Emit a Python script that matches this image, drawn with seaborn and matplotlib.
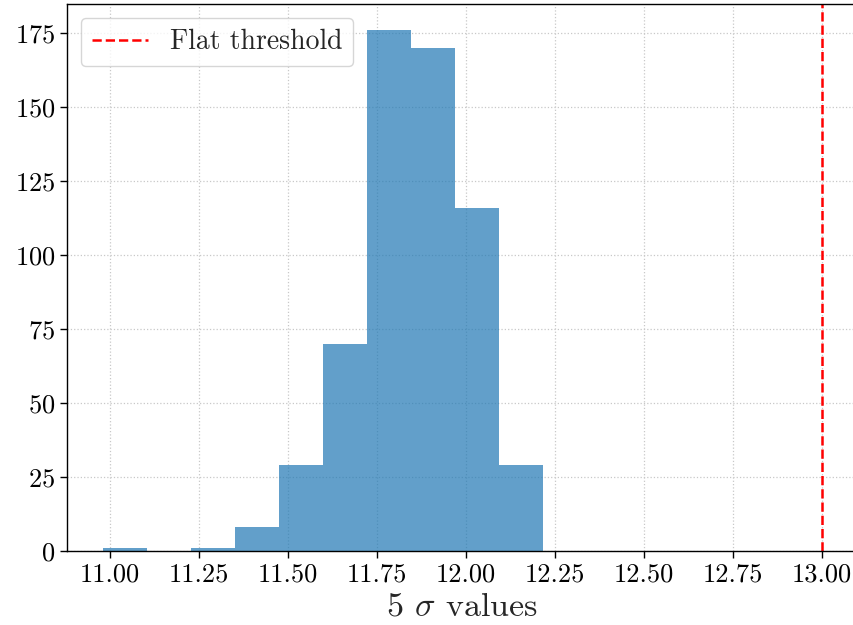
import matplotlib
matplotlib.use("Agg")
import matplotlib.pyplot as plt
import seaborn as sns
import numpy as np

# Histogram of 5-sigma values: bin edges and counts per bin
bin_edges = [10.980, 11.104, 11.227, 11.351, 11.474, 11.598,
             11.722, 11.845, 11.969, 12.092, 12.216]
bin_counts = [1, 0, 1, 8, 29, 70, 176, 170, 116, 29]
flat_threshold = 13.0

sns.set_style("ticks")
plt.rcParams.update({
    "font.family": "cmr10",
    "mathtext.fontset": "cm",
    "axes.formatter.use_mathtext": True,
    "axes.unicode_minus": False,
    "axes.edgecolor": "black",
    "axes.linewidth": 1.0,
    "xtick.color": "black",
    "ytick.color": "black",
    "xtick.major.size": 5,
    "ytick.major.size": 5,
    "xtick.major.width": 1.0,
    "ytick.major.width": 1.0,
})

centers = [(a + b) / 2 for a, b in zip(bin_edges[:-1], bin_edges[1:])]

fig = plt.figure(figsize=(8.54, 6.25), dpi=100)
ax = fig.add_axes([0.0785, 0.1184, 0.9257, 0.8752])

sns.histplot(x=centers, weights=bin_counts, bins=bin_edges, ax=ax,
             color="tab:blue", alpha=0.7, linewidth=0, stat="count")

ax.axvline(flat_threshold, color="red", linestyle="--", linewidth=1.8,
           label="Flat threshold")

ax.set_xlim(10.879, 13.101)
ax.set_ylim(0, 184.8)
ax.set_xticks(np.arange(11.0, 13.01, 0.25))
ax.set_yticks(np.arange(0, 176, 25))
ax.xaxis.set_major_formatter(matplotlib.ticker.FormatStrFormatter("%.2f"))
ax.tick_params(labelsize=19)
ax.grid(True, linestyle=":", color="#c8c8c8", linewidth=0.9)

ax.set_xlabel(r"5 $\sigma$ values", fontsize=24.5)
ax.set_ylabel("")
ax.legend(loc="upper left", fontsize=20, frameon=True, fancybox=True,
          edgecolor="#cccccc", handlelength=2.0)

for side in ["top", "right", "left", "bottom"]:
    ax.spines[side].set_visible(True)

fig.savefig("out.png", dpi=100)
